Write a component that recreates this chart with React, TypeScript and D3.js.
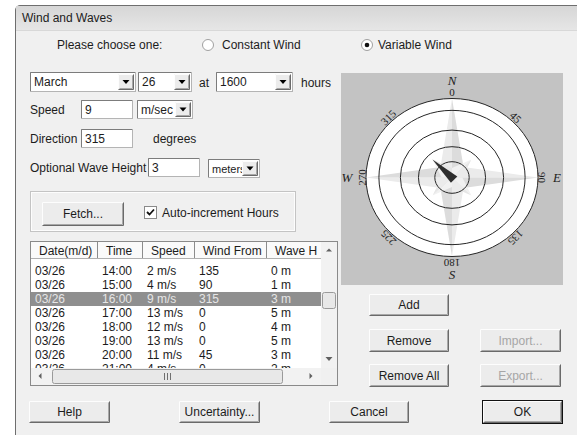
import React from 'react'
import * as d3 from 'd3'

// form values
const monthValue = 'March'
const dayValue = '26'
const hourValue = '1600'
const speedValue = '9'
const speedUnit = 'm/sec'
const directionValue = '315'
const waveValue = '3'
const waveUnit = 'meters'

// table
const columnHeaders = ['Date(m/d)', 'Time', 'Speed', 'Wind From', 'Wave H']
const columnWidths = [67, 45, 52, 72, 60]
const rowDates = ['03/26', '03/26', '03/26', '03/26', '03/26', '03/26', '03/26', '03/26']
const rowTimes = ['14:00', '15:00', '16:00', '17:00', '18:00', '19:00', '20:00', '21:00']
const rowSpeeds = [2, 4, 9, 13, 12, 13, 11, 4]
const rowWindFrom = [135, 90, 315, 0, 0, 0, 45, 0]
const rowWaveHeights = [0, 1, 3, 5, 4, 5, 3, 2]
const selectedRow = 2

// compass
const compassDegrees = [0, 45, 90, 135, 180, 225, 270, 315]
const compassLetters = ['N', 'E', 'S', 'W']
const compassLetterDegrees = [0, 90, 180, 270]
const ringFractions = [0.2, 0.39, 0.6, 0.85, 1]
const windSpeed = 9
const windFrom = 315

const FONT = '"Liberation Sans", Arial, sans-serif'
const SERIF = '"Liberation Serif", "DejaVu Serif", serif'
const INK = '#1c1c1c'

const Triangle = ({cx, cy, dir = 'down', color = '#000'}) => {
  const p = {
    down: `M${cx - 3.5},${cy - 2}h7l-3.5,4z`,
    up: `M${cx - 3},${cy + 1.5}h6l-3,-3z`,
    left: `M${cx + 1.5},${cy - 3}v6l-3,-3z`,
    right: `M${cx - 1.5},${cy - 3}v6l3,-3z`,
  }[dir]
  return <path d={p} fill={color}/>
}

const Raised = ({x, y, w, h, fill = '#ececec'}) => (
  <g>
    <rect x={x} y={y} width={w} height={h} fill={fill}/>
    <path d={`M${x + 0.5},${y + h - 1}V${y + 0.5}H${x + w - 1}`} stroke="#fdfdfd" fill="none"/>
    <path d={`M${x + 0.5},${y + h - 0.5}H${x + w - 0.5}V${y + 0.5}`} stroke="#6a6a6a" fill="none"/>
    <path d={`M${x + 1.5},${y + h - 1.5}H${x + w - 1.5}V${y + 1.5}`} stroke="#a8a8a8" fill="none"/>
  </g>
)

const Button = ({x, y, w, h, label, disabled = false, isDefault = false}) => (
  <g>
    {isDefault && <rect x={x - 0.5} y={y - 0.5} width={w + 1} height={h + 1} fill="none" stroke="#111"/>}
    <Raised x={x} y={y} w={w} h={h}/>
    <text x={x + w / 2} y={y + h / 2 + 4} textAnchor="middle" fill={disabled ? '#a6a6a6' : INK}>{label}</text>
  </g>
)

const TextBox = ({x, y, w, h, value, size = 12}) => (
  <g>
    <rect x={x + 0.5} y={y + 0.5} width={w - 1} height={h - 1} fill="#fff" stroke="#b4b4b4"/>
    <path d={`M${x + 0.5},${y + h - 1}V${y + 0.5}H${x + w - 1}`} stroke="#7c7c7c" fill="none"/>
    <text x={x + 4} y={y + h / 2 + 4} fontSize={size}>{value}</text>
  </g>
)

const Combo = ({x, y, w, h, value, size = 12}) => (
  <g>
    <TextBox x={x} y={y} w={w} h={h} value={value} size={size}/>
    <Raised x={x + w - 18} y={y + 2} w={16} h={h - 4}/>
    <Triangle cx={x + w - 10} cy={y + h / 2}/>
  </g>
)

const Compass = () => {
  const cx = 452
  const cy = 177.5
  const rx = d3.scaleLinear().domain([0, 1]).range([0, 86])
  const ry = d3.scaleLinear().domain([0, 1]).range([0, 79])
  const speedScale = d3.scaleLinear().domain([0, 28]).range([0, 1])
  const pt = (deg, f) => {
    const a = (deg * Math.PI) / 180
    return [cx + Math.sin(a) * rx(f), cy - Math.cos(a) * ry(f)]
  }
  const line = d3.line()
  const starPieces = []
  compassDegrees.forEach((deg, i) => {
    const cardinal = i % 2 === 0
    const tip = cardinal ? 1 : 0.32
    const side = cardinal ? 0.19 : 0.12
    starPieces.push({d: line([[cx, cy], pt(deg, tip), pt(deg - 45, side)]) + 'Z', fill: cardinal ? '#ebebeb' : '#f1f1f1'})
    starPieces.push({d: line([[cx, cy], pt(deg, tip), pt(deg + 45, side)]) + 'Z', fill: cardinal ? '#dcdcdc' : '#e6e6e6'})
  })
  const len = speedScale(windSpeed)
  const a = (windFrom * Math.PI) / 180
  const tip = pt(windFrom, len)
  const px = Math.cos(a) * 4.5
  const py = Math.sin(a) * 4.5
  const bx = cx - Math.sin(a) * 3
  const by = cy + Math.cos(a) * 3
  const arrow = line([tip, [bx + px, by + py], [bx - px, by - py]]) + 'Z'

  return (
    <g>
      <rect x={341} y={73} width={222} height={212} fill="#c3c3c3"/>
      <ellipse cx={cx} cy={cy} rx={rx(1)} ry={ry(1)} fill="#fff"/>
      {starPieces.map((s, i) => <path key={i} d={s.d} fill={s.fill}/>)}
      {ringFractions.map((f) => (
        <ellipse key={f} cx={cx} cy={cy} rx={rx(f)} ry={ry(f)} fill="none" stroke="#262626" strokeWidth={1}/>
      ))}
      <path d={arrow} fill="#2e2e2e"/>
      {compassDegrees.map((deg) => {
        const a2 = (deg * Math.PI) / 180
        const x = cx + Math.sin(a2) * 90
        const y = cy - Math.cos(a2) * 85
        return (
          <text key={deg} transform={`translate(${x},${y}) rotate(${deg})`} textAnchor="middle"
            dy="0.35em" fontFamily={SERIF} fontSize={11} fill="#222">{deg}</text>
        )
      })}
      {compassLetters.map((l, i) => {
        const a2 = (compassLetterDegrees[i] * Math.PI) / 180
        const x = cx + Math.sin(a2) * 105
        const y = cy - Math.cos(a2) * 97
        return (
          <text key={l} x={x} y={y} dy="0.35em" textAnchor="middle" fontFamily={SERIF}
            fontStyle="italic" fontSize={13}>{l}</text>
        )
      })}
    </g>
  )
}

const ListView = () => {
  const starts = d3.cumsum([31, ...columnWidths]).slice(0, columnWidths.length)
  const rowScale = d3.scaleBand().domain(d3.range(rowDates.length)).range([264, 264 + 14 * rowDates.length])
  const cells = (i) => [rowDates[i], rowTimes[i], `${rowSpeeds[i]} m/s`, `${rowWindFrom[i]}`, `${rowWaveHeights[i]} m`]
  return (
    <g>
      <defs>
        <clipPath id="listClip"><rect x={31} y={242} width={290} height={126}/></clipPath>
      </defs>
      <rect x={30.5} y={241.5} width={307} height={144} fill="#fff" stroke="#8a8a8a"/>
      <g clipPath="url(#listClip)">
        <rect x={31} y={242} width={290} height={17} fill="#fafafa"/>
        <line x1={31} x2={321} y1={258.5} y2={258.5} stroke="#b0b0b0"/>
        {columnHeaders.map((h, j) => (
          <g key={h}>
            <text x={starts[j] + 8} y={255}>{h}</text>
            <line x1={starts[j] + columnWidths[j] - 0.5} x2={starts[j] + columnWidths[j] - 0.5} y1={242} y2={258}
              stroke="#8c8c8c"/>
          </g>
        ))}
        {d3.range(rowDates.length).map((i) => (
          <g key={i}>
            {i === selectedRow && <rect x={31} y={rowScale(i)} width={290} height={14} fill="#8f8f8f"/>}
            {cells(i).map((c, j) => (
              <text key={j} x={starts[j] + 4} y={rowScale(i) + 11} fill={i === selectedRow ? '#e6e6e6' : INK}>{c}</text>
            ))}
          </g>
        ))}
      </g>
      {/* vertical scrollbar */}
      <rect x={321} y={242} width={16} height={126} fill="#f2f2f2"/>
      <Triangle cx={329} cy={250} dir="up" color="#606060"/>
      <Triangle cx={329} cy={359} dir="down" color="#606060"/>
      <rect x={322.5} y={292.5} width={13} height={16} rx={2} fill="#e8e8e8" stroke="#9a9a9a"/>
      {/* horizontal scrollbar */}
      <rect x={31} y={368} width={290} height={17} fill="#f2f2f2"/>
      <rect x={321} y={368} width={16} height={17} fill="#f0f0f0"/>
      <Triangle cx={40} cy={376} dir="left" color="#606060"/>
      <Triangle cx={311} cy={376} dir="right" color="#606060"/>
      <rect x={52.5} y={369.5} width={230} height={14} rx={2} fill="#e8e8e8" stroke="#9a9a9a"/>
      {[-3, 0, 3].map((d) => (
        <line key={d} x1={167 + d + 0.5} x2={167 + d + 0.5} y1={373} y2={380} stroke="#707070"/>
      ))}
    </g>
  )
}

const App = () => {
  return (
    <svg width={577} height={435} style={{position: 'absolute', left: 0, top: 0}}
      fontFamily={FONT} fontSize={12} fill={INK}>
      <defs>
        <linearGradient id="titleGrad" x1="0" x2="0" y1="0" y2="1">
          <stop offset="0" stopColor="#d6d6d6"/>
          <stop offset="1" stopColor="#e6e6e6"/>
        </linearGradient>
      </defs>
      <rect width={577} height={435} fill="#fff"/>
      {/* window */}
      <path d="M15.5,435V10a4.5,4.5 0 0 1 4.5,-4.5H577" fill="#f0f0f0" stroke="#6e6e6e"/>
      <rect x={16} y={6} width={561} height={24} fill="url(#titleGrad)"/>
      <line x1={16} x2={577} y1={30.5} y2={30.5} stroke="#d8d8d8"/>
      <rect x={16} y={31} width={561} height={404} fill="#f0f0f0"/>
      <text x={22} y={22}>Wind and Waves</text>

      {/* wind type */}
      <text x={57} y={49}>Please choose one:</text>
      <circle cx={208} cy={45} r={5.5} fill="#fff" stroke="#a0a0a0"/>
      <text x={222} y={49}>Constant Wind</text>
      <circle cx={367} cy={45} r={5.5} fill="#fff" stroke="#a0a0a0"/>
      <circle cx={367} cy={45} r={2.3} fill="#111"/>
      <text x={378} y={49}>Variable Wind</text>

      {/* date / time */}
      <Combo x={30} y={72} w={106} h={20} value={monthValue}/>
      <Combo x={138} y={72} w={54} h={20} value={dayValue}/>
      <text x={199} y={87}>at</text>
      <Combo x={216} y={72} w={77} h={20} value={hourValue}/>
      <text x={301} y={87}>hours</text>

      <text x={30} y={114}>Speed</text>
      <TextBox x={81} y={100} w={52} h={19} value={speedValue}/>
      <Combo x={137} y={100} w={56} h={19} value={speedUnit}/>

      <text x={30} y={143}>Direction</text>
      <TextBox x={81} y={129} w={52} h={19} value={directionValue}/>
      <text x={153} y={143}>degrees</text>

      <text x={30} y={172}>Optional Wave Height</text>
      <TextBox x={148} y={158} w={52} h={19} value={waveValue}/>
      <Combo x={208} y={159} w={52} h={19} value={waveUnit} size={11}/>

      {/* fetch group */}
      <rect x={30.5} y={191.5} width={265} height={40} fill="none" stroke="#c4c4c4"/>
      <rect x={31.5} y={192.5} width={263} height={38} fill="none" stroke="#fdfdfd"/>
      <Button x={42} y={202} w={82} h={24} label="Fetch..."/>
      <rect x={144.5} y={206.5} width={12} height={12} fill="#fff" stroke="#8a8a8a"/>
      <path d="M147,212l2.5,2.5l4.5,-5" stroke="#111" strokeWidth={1.8} fill="none"/>
      <text x={162} y={217}>Auto-increment Hours</text>

      <ListView/>
      <Compass/>

      <Button x={369} y={294} w={80} h={22} label="Add"/>
      <Button x={369} y={329} w={80} h={23} label="Remove"/>
      <Button x={369} y={364} w={80} h={23} label="Remove All"/>
      <Button x={480} y={329} w={81} h={23} label="Import..." disabled/>
      <Button x={480} y={364} w={81} h={23} label="Export..." disabled/>

      <Button x={29} y={401} w={81} h={22} label="Help"/>
      <Button x={179} y={401} w={81} h={22} label="Uncertainty..."/>
      <Button x={329} y={401} w={80} h={22} label="Cancel"/>
      <Button x={483} y={401} w={79} h={22} label="OK" isDefault/>
    </svg>
  )
}

export default App
